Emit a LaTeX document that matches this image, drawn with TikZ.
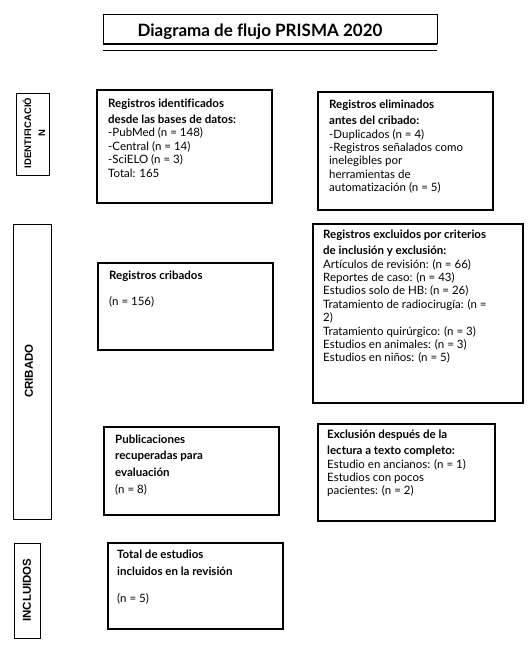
\documentclass[tikz,border=0pt]{standalone}
\usepackage{fontspec}
\setmainfont{Lato}[Ligatures=NoCommon]
\newfontfamily\labfont{Liberation Sans}
\begin{document}
\begin{tikzpicture}[x=1pt,y=-1pt,
  box/.style={draw, line width=1.7pt},
  labbox/.style={draw, line width=0.9pt},
  txt/.style={anchor=north west, align=left, inner sep=0pt, font=\fontsize{11.5}{13.4}\selectfont},
  lab/.style={rotate=90, align=center, inner sep=0pt, font=\labfont\bfseries\fontsize{11.5}{14}\selectfont}
]
\useasboundingbox (0,0) rectangle (532,647);
% title
\draw[line width=0.8pt] (103,14) -- (437,14);
\draw[line width=0.8pt] (103,14) -- (103,44);
\draw[line width=0.8pt] (437,14) -- (437,44);
\draw[line width=1.8pt] (103,44) -- (437,44);
\draw[line width=0.8pt] (103,50) -- (437,50);
\node[anchor=base, inner sep=0pt, font=\bfseries\fontsize{17}{19}\selectfont] (title) at (260,37) {Diagrama de flujo PRISMA 2020};

% phase labels
\draw[labbox] (16,93) rectangle (49,175);
\node[lab, font=\labfont\bfseries\fontsize{9.5}{14}\selectfont] (l1) at (34,133) {IDENTIFICACIÓ\\N};
\draw[labbox] (13,224) rectangle (51,519);
\node[lab] (l2) at (29,371) {CRIBADO};
\draw[labbox] (14,543) rectangle (40,638);
\node[lab] (l3) at (27,590) {INCLUIDOS};

% boxes
\draw[box] (97,90) rectangle (272,203);
\node[txt] (t1) at (108,98) {\rule{0pt}{9pt}\textbf{Registros identificados}\\[3pt]
\textbf{desde las bases de datos:}\\
-PubMed (n = 148)\\
-Central (n = 14)\\
-SciELO (n = 3)\\
Total: 165};

\draw[box] (318,92) rectangle (493,210);
\node[txt] (t2) at (329,99) {\rule{0pt}{9pt}\textbf{Registros eliminados}\\[3pt]
\textbf{antes del cribado:}\\
-Duplicados (n = 4)\\
-Registros señalados como\\
inelegibles por\\
herramientas de\\
automatización (n = 5)};

\draw[box] (98,263) rectangle (273,350);
\node[txt] (t3) at (109,270) {\rule{0pt}{9pt}\textbf{Registros cribados}\\[12.6pt]
(n = 156)};

\draw[box] (313,224) rectangle (523,403);
\node[txt] (t4) at (323,229) {\rule{0pt}{9pt}\textbf{Registros excluidos por criterios}\\[3pt]
\textbf{de inclusión y exclusión:}\\
Artículos de revisión: (n = 66)\\
Reportes de caso: (n = 43)\\
Estudios solo de HB: (n = 26)\\
Tratamiento de radiocirugía: (n =\\
2)\\
Tratamiento quirúrgico: (n = 3)\\
Estudios en animales: (n = 3)\\
Estudios en niños: (n = 5)};

\draw[box] (104,427) rectangle (279,515);
\node[txt] (t5) at (115,434) {\rule{0pt}{9pt}\textbf{Publicaciones}\\[3pt]
\textbf{recuperadas para}\\[3pt]
\textbf{evaluación}\\[3.6pt]
(n = 8)};

\draw[box] (318,424) rectangle (495,521);
\node[txt] (t6) at (327,429) {\rule{0pt}{9pt}\textbf{Exclusión después de la}\\[3pt]
\textbf{lectura a texto completo:}\\
Estudio en ancianos: (n = 1)\\
Estudios con pocos\\
pacientes: (n = 2)};

\draw[box] (108,543) rectangle (283,629);
\node[txt] (t7) at (117,549) {\rule{0pt}{9pt}\textbf{Total de estudios}\\[4pt]
\textbf{incluidos en la revisión}\\[13pt]
(n = 5)};
\end{tikzpicture}
\end{document}
